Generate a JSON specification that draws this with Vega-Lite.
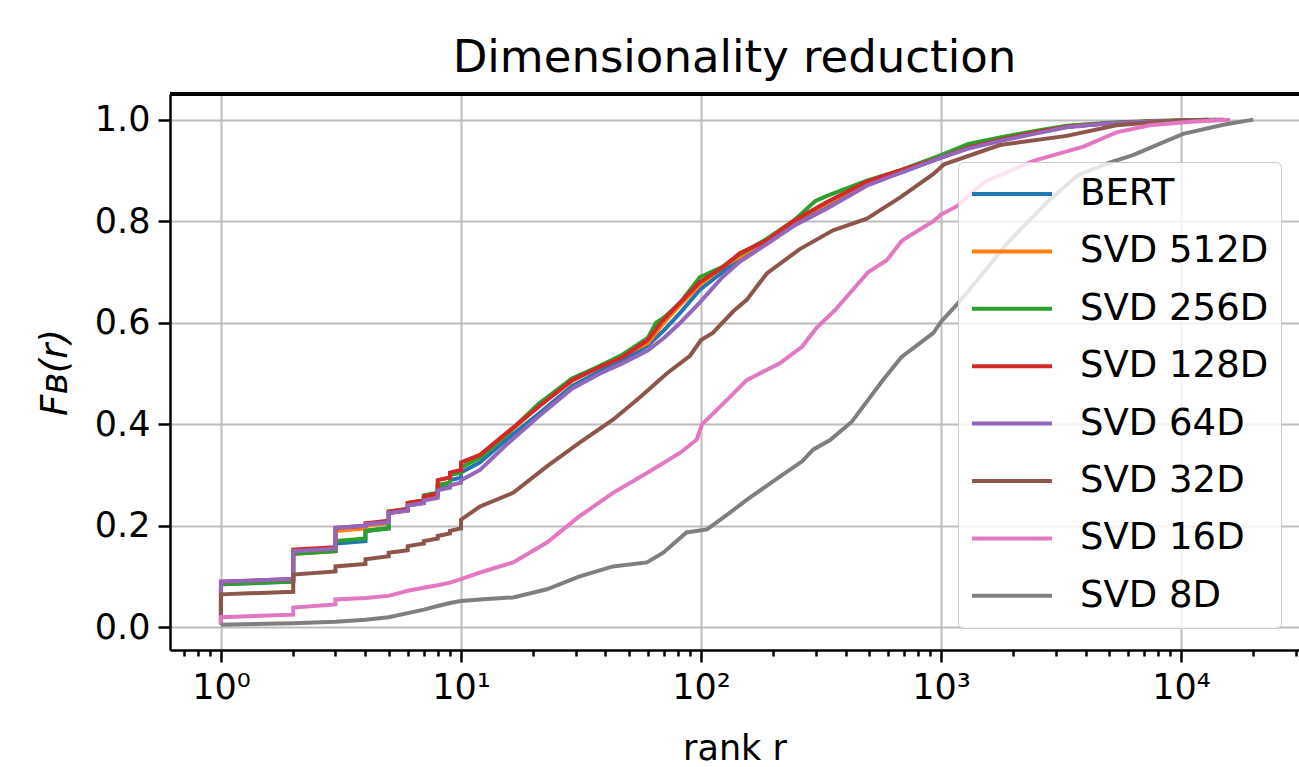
{
"$schema":"https://vega.github.io/schema/vega-lite/v6.json",
"width":1129,"height":556,
"autosize":{"type":"none"},
"padding":{"left":170,"top":94,"right":0,"bottom":117},
"background":"white",
"config":{"view":{"stroke":null},"font":"DejaVu Sans",
"axis":{"domainColor":"black","domainWidth":2.5,"tickColor":"black","tickWidth":2.5,"labelFont":"DejaVu Sans","labelFontSize":35,"labelColor":"black","titleFont":"DejaVu Sans","titleFontSize":35,"titleFontWeight":"normal","titleColor":"black","gridColor":"#bdbdbd","gridWidth":2}},
"title":{"text":"Dimensionality reduction","fontSize":45,"font":"DejaVu Sans","fontWeight":"normal","color":"black","anchor":"middle","offset":12},
"data":{"values":[
{"s":"BERT","r":1,"f":0.005},{"s":"BERT","r":1,"f":0.085},{"s":"BERT","r":2,"f":0.09},{"s":"BERT","r":2,"f":0.145},{"s":"BERT","r":3,"f":0.15},{"s":"BERT","r":3,"f":0.165},{"s":"BERT","r":4,"f":0.17},{"s":"BERT","r":4,"f":0.19},{"s":"BERT","r":5,"f":0.195},{"s":"BERT","r":5,"f":0.225},{"s":"BERT","r":6,"f":0.23},{"s":"BERT","r":6,"f":0.24},{"s":"BERT","r":7,"f":0.245},{"s":"BERT","r":7,"f":0.255},{"s":"BERT","r":8,"f":0.26},{"s":"BERT","r":8,"f":0.275},{"s":"BERT","r":9,"f":0.28},{"s":"BERT","r":9,"f":0.29},{"s":"BERT","r":10,"f":0.295},{"s":"BERT","r":10,"f":0.305},{"s":"BERT","r":12,"f":0.325},{"s":"BERT","r":15.5,"f":0.37},{"s":"BERT","r":21,"f":0.42},{"s":"BERT","r":29,"f":0.475},{"s":"BERT","r":38,"f":0.505},{"s":"BERT","r":47,"f":0.525},{"s":"BERT","r":60,"f":0.555},{"s":"BERT","r":70,"f":0.585},{"s":"BERT","r":82,"f":0.62},{"s":"BERT","r":99,"f":0.665},{"s":"BERT","r":123,"f":0.7},{"s":"BERT","r":145,"f":0.725},{"s":"BERT","r":188,"f":0.76},{"s":"BERT","r":242,"f":0.795},{"s":"BERT","r":335,"f":0.83},{"s":"BERT","r":491,"f":0.875},{"s":"BERT","r":676,"f":0.895},{"s":"BERT","r":1000,"f":0.925},{"s":"BERT","r":1300,"f":0.945},{"s":"BERT","r":1760,"f":0.96},{"s":"BERT","r":2500,"f":0.975},{"s":"BERT","r":3340,"f":0.986},{"s":"BERT","r":5000,"f":0.993},{"s":"BERT","r":8000,"f":0.997},{"s":"BERT","r":14000,"f":1.0},
{"s":"SVD 512D","r":1,"f":0.005},{"s":"SVD 512D","r":1,"f":0.088},{"s":"SVD 512D","r":2,"f":0.093},{"s":"SVD 512D","r":2,"f":0.145},{"s":"SVD 512D","r":3,"f":0.15},{"s":"SVD 512D","r":3,"f":0.19},{"s":"SVD 512D","r":4,"f":0.195},{"s":"SVD 512D","r":4,"f":0.2},{"s":"SVD 512D","r":5,"f":0.205},{"s":"SVD 512D","r":5,"f":0.225},{"s":"SVD 512D","r":6,"f":0.23},{"s":"SVD 512D","r":6,"f":0.245},{"s":"SVD 512D","r":7,"f":0.25},{"s":"SVD 512D","r":7,"f":0.255},{"s":"SVD 512D","r":8,"f":0.26},{"s":"SVD 512D","r":8,"f":0.28},{"s":"SVD 512D","r":9,"f":0.285},{"s":"SVD 512D","r":9,"f":0.3},{"s":"SVD 512D","r":10,"f":0.305},{"s":"SVD 512D","r":10,"f":0.315},{"s":"SVD 512D","r":12,"f":0.335},{"s":"SVD 512D","r":15.5,"f":0.38},{"s":"SVD 512D","r":21,"f":0.435},{"s":"SVD 512D","r":29,"f":0.485},{"s":"SVD 512D","r":38,"f":0.515},{"s":"SVD 512D","r":47,"f":0.535},{"s":"SVD 512D","r":60,"f":0.56},{"s":"SVD 512D","r":70,"f":0.6},{"s":"SVD 512D","r":82,"f":0.635},{"s":"SVD 512D","r":99,"f":0.675},{"s":"SVD 512D","r":123,"f":0.71},{"s":"SVD 512D","r":145,"f":0.73},{"s":"SVD 512D","r":188,"f":0.765},{"s":"SVD 512D","r":242,"f":0.8},{"s":"SVD 512D","r":335,"f":0.835},{"s":"SVD 512D","r":491,"f":0.878},{"s":"SVD 512D","r":676,"f":0.9},{"s":"SVD 512D","r":1000,"f":0.927},{"s":"SVD 512D","r":1300,"f":0.945},{"s":"SVD 512D","r":1760,"f":0.96},{"s":"SVD 512D","r":2500,"f":0.975},{"s":"SVD 512D","r":3340,"f":0.987},{"s":"SVD 512D","r":5000,"f":0.993},{"s":"SVD 512D","r":8000,"f":0.997},{"s":"SVD 512D","r":14000,"f":1.0},
{"s":"SVD 256D","r":1,"f":0.005},{"s":"SVD 256D","r":1,"f":0.085},{"s":"SVD 256D","r":2,"f":0.09},{"s":"SVD 256D","r":2,"f":0.145},{"s":"SVD 256D","r":3,"f":0.15},{"s":"SVD 256D","r":3,"f":0.17},{"s":"SVD 256D","r":4,"f":0.175},{"s":"SVD 256D","r":4,"f":0.19},{"s":"SVD 256D","r":5,"f":0.195},{"s":"SVD 256D","r":5,"f":0.228},{"s":"SVD 256D","r":6,"f":0.233},{"s":"SVD 256D","r":6,"f":0.245},{"s":"SVD 256D","r":7,"f":0.25},{"s":"SVD 256D","r":7,"f":0.26},{"s":"SVD 256D","r":8,"f":0.265},{"s":"SVD 256D","r":8,"f":0.28},{"s":"SVD 256D","r":9,"f":0.285},{"s":"SVD 256D","r":9,"f":0.3},{"s":"SVD 256D","r":10,"f":0.305},{"s":"SVD 256D","r":10,"f":0.315},{"s":"SVD 256D","r":12,"f":0.335},{"s":"SVD 256D","r":15.5,"f":0.38},{"s":"SVD 256D","r":21,"f":0.44},{"s":"SVD 256D","r":29,"f":0.49},{"s":"SVD 256D","r":38,"f":0.515},{"s":"SVD 256D","r":47,"f":0.537},{"s":"SVD 256D","r":60,"f":0.57},{"s":"SVD 256D","r":65,"f":0.6},{"s":"SVD 256D","r":70,"f":0.61},{"s":"SVD 256D","r":82,"f":0.64},{"s":"SVD 256D","r":99,"f":0.69},{"s":"SVD 256D","r":123,"f":0.71},{"s":"SVD 256D","r":145,"f":0.735},{"s":"SVD 256D","r":188,"f":0.765},{"s":"SVD 256D","r":242,"f":0.8},{"s":"SVD 256D","r":300,"f":0.84},{"s":"SVD 256D","r":335,"f":0.85},{"s":"SVD 256D","r":491,"f":0.88},{"s":"SVD 256D","r":676,"f":0.9},{"s":"SVD 256D","r":1000,"f":0.93},{"s":"SVD 256D","r":1300,"f":0.952},{"s":"SVD 256D","r":1760,"f":0.965},{"s":"SVD 256D","r":2500,"f":0.978},{"s":"SVD 256D","r":3340,"f":0.988},{"s":"SVD 256D","r":5000,"f":0.994},{"s":"SVD 256D","r":8000,"f":0.998},{"s":"SVD 256D","r":13000,"f":1.0},
{"s":"SVD 128D","r":1,"f":0.005},{"s":"SVD 128D","r":1,"f":0.09},{"s":"SVD 128D","r":2,"f":0.095},{"s":"SVD 128D","r":2,"f":0.153},{"s":"SVD 128D","r":3,"f":0.158},{"s":"SVD 128D","r":3,"f":0.196},{"s":"SVD 128D","r":4,"f":0.2},{"s":"SVD 128D","r":4,"f":0.205},{"s":"SVD 128D","r":5,"f":0.21},{"s":"SVD 128D","r":5,"f":0.228},{"s":"SVD 128D","r":6,"f":0.233},{"s":"SVD 128D","r":6,"f":0.245},{"s":"SVD 128D","r":7,"f":0.25},{"s":"SVD 128D","r":7,"f":0.258},{"s":"SVD 128D","r":8,"f":0.263},{"s":"SVD 128D","r":8,"f":0.29},{"s":"SVD 128D","r":9,"f":0.295},{"s":"SVD 128D","r":9,"f":0.305},{"s":"SVD 128D","r":10,"f":0.31},{"s":"SVD 128D","r":10,"f":0.325},{"s":"SVD 128D","r":12,"f":0.34},{"s":"SVD 128D","r":15.5,"f":0.383},{"s":"SVD 128D","r":21,"f":0.434},{"s":"SVD 128D","r":29,"f":0.487},{"s":"SVD 128D","r":38,"f":0.513},{"s":"SVD 128D","r":47,"f":0.532},{"s":"SVD 128D","r":60,"f":0.566},{"s":"SVD 128D","r":68,"f":0.6},{"s":"SVD 128D","r":82,"f":0.64},{"s":"SVD 128D","r":99,"f":0.68},{"s":"SVD 128D","r":123,"f":0.709},{"s":"SVD 128D","r":145,"f":0.737},{"s":"SVD 128D","r":188,"f":0.762},{"s":"SVD 128D","r":242,"f":0.8},{"s":"SVD 128D","r":335,"f":0.838},{"s":"SVD 128D","r":491,"f":0.878},{"s":"SVD 128D","r":676,"f":0.9},{"s":"SVD 128D","r":1000,"f":0.925},{"s":"SVD 128D","r":1300,"f":0.945},{"s":"SVD 128D","r":1760,"f":0.96},{"s":"SVD 128D","r":2500,"f":0.975},{"s":"SVD 128D","r":3340,"f":0.986},{"s":"SVD 128D","r":5000,"f":0.993},{"s":"SVD 128D","r":8000,"f":0.997},{"s":"SVD 128D","r":15000,"f":1.0},
{"s":"SVD 64D","r":1,"f":0.005},{"s":"SVD 64D","r":1,"f":0.09},{"s":"SVD 64D","r":2,"f":0.095},{"s":"SVD 64D","r":2,"f":0.15},{"s":"SVD 64D","r":3,"f":0.155},{"s":"SVD 64D","r":3,"f":0.196},{"s":"SVD 64D","r":4,"f":0.2},{"s":"SVD 64D","r":4,"f":0.203},{"s":"SVD 64D","r":5,"f":0.207},{"s":"SVD 64D","r":5,"f":0.225},{"s":"SVD 64D","r":6,"f":0.23},{"s":"SVD 64D","r":6,"f":0.24},{"s":"SVD 64D","r":7,"f":0.245},{"s":"SVD 64D","r":7,"f":0.25},{"s":"SVD 64D","r":8,"f":0.255},{"s":"SVD 64D","r":8,"f":0.27},{"s":"SVD 64D","r":9,"f":0.275},{"s":"SVD 64D","r":9,"f":0.28},{"s":"SVD 64D","r":10,"f":0.285},{"s":"SVD 64D","r":10,"f":0.29},{"s":"SVD 64D","r":12,"f":0.31},{"s":"SVD 64D","r":15.5,"f":0.36},{"s":"SVD 64D","r":21,"f":0.415},{"s":"SVD 64D","r":29,"f":0.47},{"s":"SVD 64D","r":38,"f":0.5},{"s":"SVD 64D","r":47,"f":0.52},{"s":"SVD 64D","r":60,"f":0.545},{"s":"SVD 64D","r":70,"f":0.57},{"s":"SVD 64D","r":82,"f":0.6},{"s":"SVD 64D","r":99,"f":0.64},{"s":"SVD 64D","r":123,"f":0.69},{"s":"SVD 64D","r":145,"f":0.72},{"s":"SVD 64D","r":188,"f":0.755},{"s":"SVD 64D","r":242,"f":0.79},{"s":"SVD 64D","r":335,"f":0.825},{"s":"SVD 64D","r":491,"f":0.87},{"s":"SVD 64D","r":676,"f":0.895},{"s":"SVD 64D","r":1000,"f":0.925},{"s":"SVD 64D","r":1300,"f":0.943},{"s":"SVD 64D","r":1760,"f":0.958},{"s":"SVD 64D","r":2500,"f":0.973},{"s":"SVD 64D","r":3340,"f":0.985},{"s":"SVD 64D","r":5000,"f":0.993},{"s":"SVD 64D","r":8000,"f":0.997},{"s":"SVD 64D","r":15000,"f":1.0},
{"s":"SVD 32D","r":1,"f":0.005},{"s":"SVD 32D","r":1,"f":0.065},{"s":"SVD 32D","r":2,"f":0.07},{"s":"SVD 32D","r":2,"f":0.104},{"s":"SVD 32D","r":3,"f":0.11},{"s":"SVD 32D","r":3,"f":0.12},{"s":"SVD 32D","r":4,"f":0.125},{"s":"SVD 32D","r":4,"f":0.134},{"s":"SVD 32D","r":5,"f":0.14},{"s":"SVD 32D","r":5,"f":0.147},{"s":"SVD 32D","r":6,"f":0.152},{"s":"SVD 32D","r":6,"f":0.16},{"s":"SVD 32D","r":7,"f":0.165},{"s":"SVD 32D","r":7,"f":0.17},{"s":"SVD 32D","r":8,"f":0.175},{"s":"SVD 32D","r":8,"f":0.18},{"s":"SVD 32D","r":9,"f":0.185},{"s":"SVD 32D","r":9,"f":0.19},{"s":"SVD 32D","r":10,"f":0.195},{"s":"SVD 32D","r":10,"f":0.212},{"s":"SVD 32D","r":12,"f":0.238},{"s":"SVD 32D","r":16.5,"f":0.265},{"s":"SVD 32D","r":22.8,"f":0.317},{"s":"SVD 32D","r":31,"f":0.363},{"s":"SVD 32D","r":43,"f":0.409},{"s":"SVD 32D","r":56,"f":0.454},{"s":"SVD 32D","r":72,"f":0.5},{"s":"SVD 32D","r":90,"f":0.535},{"s":"SVD 32D","r":100,"f":0.566},{"s":"SVD 32D","r":112,"f":0.58},{"s":"SVD 32D","r":136,"f":0.622},{"s":"SVD 32D","r":155,"f":0.645},{"s":"SVD 32D","r":188,"f":0.697},{"s":"SVD 32D","r":258,"f":0.745},{"s":"SVD 32D","r":355,"f":0.782},{"s":"SVD 32D","r":491,"f":0.805},{"s":"SVD 32D","r":676,"f":0.847},{"s":"SVD 32D","r":930,"f":0.893},{"s":"SVD 32D","r":1030,"f":0.912},{"s":"SVD 32D","r":1760,"f":0.95},{"s":"SVD 32D","r":3340,"f":0.968},{"s":"SVD 32D","r":5380,"f":0.989},{"s":"SVD 32D","r":8670,"f":0.997},{"s":"SVD 32D","r":13000,"f":1.0},
{"s":"SVD 16D","r":1,"f":0.005},{"s":"SVD 16D","r":1,"f":0.02},{"s":"SVD 16D","r":2,"f":0.025},{"s":"SVD 16D","r":2,"f":0.039},{"s":"SVD 16D","r":3,"f":0.045},{"s":"SVD 16D","r":3,"f":0.055},{"s":"SVD 16D","r":4,"f":0.058},{"s":"SVD 16D","r":5,"f":0.062},{"s":"SVD 16D","r":6,"f":0.072},{"s":"SVD 16D","r":7,"f":0.078},{"s":"SVD 16D","r":8,"f":0.083},{"s":"SVD 16D","r":9,"f":0.088},{"s":"SVD 16D","r":10,"f":0.095},{"s":"SVD 16D","r":12,"f":0.108},{"s":"SVD 16D","r":16.5,"f":0.128},{"s":"SVD 16D","r":22.8,"f":0.167},{"s":"SVD 16D","r":31,"f":0.218},{"s":"SVD 16D","r":43,"f":0.265},{"s":"SVD 16D","r":60,"f":0.305},{"s":"SVD 16D","r":82,"f":0.344},{"s":"SVD 16D","r":96,"f":0.37},{"s":"SVD 16D","r":101,"f":0.4},{"s":"SVD 16D","r":132,"f":0.454},{"s":"SVD 16D","r":155,"f":0.487},{"s":"SVD 16D","r":213,"f":0.52},{"s":"SVD 16D","r":264,"f":0.553},{"s":"SVD 16D","r":303,"f":0.59},{"s":"SVD 16D","r":362,"f":0.625},{"s":"SVD 16D","r":420,"f":0.66},{"s":"SVD 16D","r":498,"f":0.7},{"s":"SVD 16D","r":594,"f":0.723},{"s":"SVD 16D","r":683,"f":0.76},{"s":"SVD 16D","r":720,"f":0.768},{"s":"SVD 16D","r":930,"f":0.8},{"s":"SVD 16D","r":1000,"f":0.813},{"s":"SVD 16D","r":1170,"f":0.83},{"s":"SVD 16D","r":1510,"f":0.877},{"s":"SVD 16D","r":2430,"f":0.919},{"s":"SVD 16D","r":3920,"f":0.947},{"s":"SVD 16D","r":5380,"f":0.975},{"s":"SVD 16D","r":7400,"f":0.989},{"s":"SVD 16D","r":11000,"f":0.996},{"s":"SVD 16D","r":16000,"f":1.0},
{"s":"SVD 8D","r":1,"f":0.005},{"s":"SVD 8D","r":2,"f":0.008},{"s":"SVD 8D","r":3,"f":0.011},{"s":"SVD 8D","r":4,"f":0.015},{"s":"SVD 8D","r":5,"f":0.02},{"s":"SVD 8D","r":6,"f":0.028},{"s":"SVD 8D","r":7,"f":0.035},{"s":"SVD 8D","r":8,"f":0.042},{"s":"SVD 8D","r":9,"f":0.048},{"s":"SVD 8D","r":10,"f":0.052},{"s":"SVD 8D","r":12,"f":0.055},{"s":"SVD 8D","r":16.5,"f":0.059},{"s":"SVD 8D","r":22.8,"f":0.075},{"s":"SVD 8D","r":31,"f":0.1},{"s":"SVD 8D","r":43,"f":0.12},{"s":"SVD 8D","r":59.5,"f":0.128},{"s":"SVD 8D","r":69.6,"f":0.147},{"s":"SVD 8D","r":87,"f":0.187},{"s":"SVD 8D","r":106,"f":0.193},{"s":"SVD 8D","r":132,"f":0.226},{"s":"SVD 8D","r":155,"f":0.251},{"s":"SVD 8D","r":213,"f":0.297},{"s":"SVD 8D","r":264,"f":0.327},{"s":"SVD 8D","r":293,"f":0.35},{"s":"SVD 8D","r":345,"f":0.369},{"s":"SVD 8D","r":425,"f":0.405},{"s":"SVD 8D","r":573,"f":0.487},{"s":"SVD 8D","r":683,"f":0.532},{"s":"SVD 8D","r":930,"f":0.58},{"s":"SVD 8D","r":1000,"f":0.602},{"s":"SVD 8D","r":1170,"f":0.637},{"s":"SVD 8D","r":1510,"f":0.7},{"s":"SVD 8D","r":1890,"f":0.757},{"s":"SVD 8D","r":2800,"f":0.84},{"s":"SVD 8D","r":3700,"f":0.89},{"s":"SVD 8D","r":5000,"f":0.915},{"s":"SVD 8D","r":6300,"f":0.93},{"s":"SVD 8D","r":10200,"f":0.972},{"s":"SVD 8D","r":15000,"f":0.99},{"s":"SVD 8D","r":20000,"f":1.0}
]},
"layer":[
{"mark":{"type":"line","strokeWidth":4,"clip":true},
"encoding":{
"x":{"field":"r","type":"quantitative","scale":{"type":"log","domain":[0.6133,31000],"nice":false,"zero":false},
"axis":{"title":"rank r","titlePadding":26,"values":[0.7,0.8,0.9,1,2,3,4,5,6,7,8,9,10,20,30,40,50,60,70,80,90,100,200,300,400,500,600,700,800,900,1000,2000,3000,4000,5000,6000,7000,8000,9000,10000,20000,30000],
"labelExpr":"datum.value==1?'10⁰':datum.value==10?'10¹':datum.value==100?'10²':datum.value==1000?'10³':datum.value==10000?'10⁴':''",
"labelOverlap":false,"labelBound":false,"labelFlush":false,"labelPadding":8,
"tickSize":{"condition":{"test":"indexof([1,10,100,1000,10000],datum.value)>=0","value":12},"value":6},
"gridOpacity":{"condition":{"test":"indexof([1,10,100,1000,10000],datum.value)>=0","value":1},"value":0}}},
"y":{"field":"f","type":"quantitative","scale":{"domain":[-0.0446,1.0505],"nice":false,"zero":false},
"axis":{"title":"Fʙ(r)","titleFontStyle":"italic","titleFontSize":37,"titlePadding":20,"values":[0,0.2,0.4,0.6,0.8,1.0],"format":".1f","tickSize":12,"labelPadding":8}},
"color":{"field":"s","type":"nominal","scale":{"domain":["BERT","SVD 512D","SVD 256D","SVD 128D","SVD 64D","SVD 32D","SVD 16D","SVD 8D"],"range":["#1f77b4","#ff7f0e","#2ca02c","#d62728","#9467bd","#8c564b","#e377c2","#7f7f7f"]},
"legend":{"orient":"none","legendX":788,"legendY":68,"title":null,"symbolType":"stroke","symbolSize":6400,"symbolStrokeWidth":4,"labelFontSize":37,"labelFont":"DejaVu Sans","labelColor":"black","labelOffset":26,"clipHeight":40,"rowPadding":17.4,"padding":12,"fillColor":"rgba(255,255,255,0.8)","strokeColor":"#cccccc","cornerRadius":5,"labelLimit":0}}}},
{"mark":{"type":"rule","color":"black","strokeWidth":2.5},"encoding":{"y":{"datum":1.0505,"type":"quantitative"}}}
]
}
